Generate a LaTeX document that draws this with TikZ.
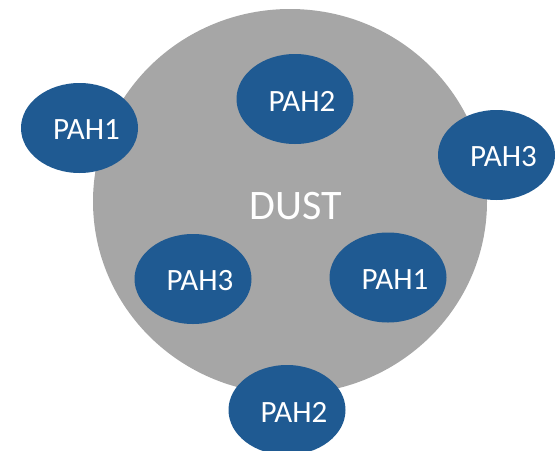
\documentclass[tikz,border=0pt]{standalone}
\usepackage{fontspec}
\setmainfont{Carlito}
\usetikzlibrary{shapes.geometric}
\definecolor{dustgray}{RGB}{166,166,166}
\definecolor{pahblue}{RGB}{31,90,146}
\tikzset{
  dustblob/.style={ellipse, fill=dustgray, minimum width=394pt, minimum height=385pt, inner sep=0pt},
  pahtext/.style={text=white, inner sep=0pt, font=\fontsize{31}{31}\selectfont},
  pah/.style={ellipse, fill=pahblue, minimum width=117pt, minimum height=90pt, inner sep=0pt,
    label={[pahtext, xshift=7pt, yshift=-2pt]center:#1}},
  dusttext/.style={text=white, inner sep=0pt, font=\fontsize{42}{42}\selectfont}
}
\begin{document}
\begin{tikzpicture}[x=1pt,y=-1pt]
\useasboundingbox (0,0) rectangle (556,450);
\node[dustblob] (dust) at (290,201.5) {};
\node[dusttext] (dustlabel) at (295.5,206.5) {DUST};
\node[pah=PAH1] (p1a) at (79.5,128) {};
\node[pah=PAH2] (p2a) at (295,99) {};
\node[pah=PAH3] (p3a) at (496.5,155) {};
\node[pah=PAH3] (p3b) at (193,279) {};
\node[pah=PAH1] (p1b) at (388,277.5) {};
\node[pah=PAH2] (p2b) at (287,410) {};
\end{tikzpicture}
\end{document}
